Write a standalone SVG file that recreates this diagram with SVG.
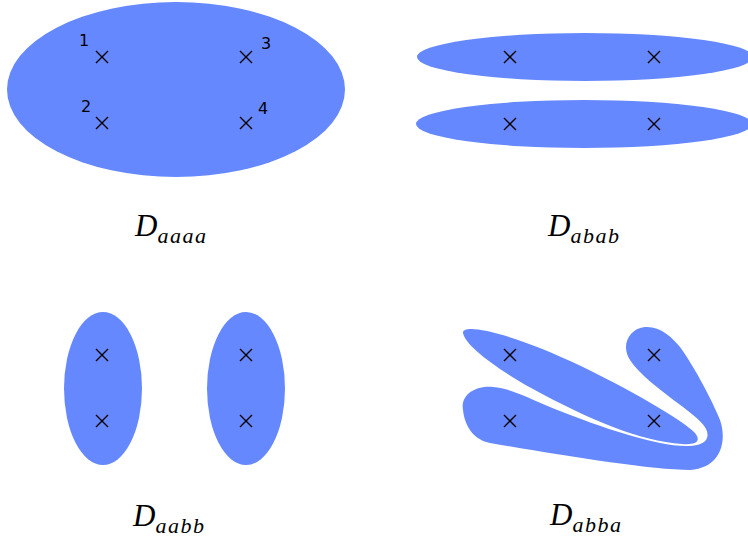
<svg xmlns="http://www.w3.org/2000/svg" width="748" height="540" viewBox="0 0 748 540">
<defs>
<style>
.blob{fill:#6688ff;stroke:none}
.x{stroke:#000;stroke-width:1.4;fill:none}
.num{font-family:"DejaVu Sans",sans-serif;font-size:16px;fill:#000}
.lab{font-family:"Liberation Serif",serif;font-style:italic;fill:#000}
.main{font-size:31px}
.sub{font-size:22px;letter-spacing:1.5px}
</style>
<path id="cross" d="M -6,-6 L 6,6 M -6,6 L 6,-6"/>
</defs>
<g id="aaaa">
<ellipse class="blob" cx="176" cy="89.5" rx="169" ry="87.5"/>
<use href="#cross" class="x" x="102" y="57"/>
<use href="#cross" class="x" x="246" y="57"/>
<use href="#cross" class="x" x="102" y="123"/>
<use href="#cross" class="x" x="246" y="123"/>
<text class="num" x="79" y="46">1</text>
<text class="num" x="261" y="49">3</text>
<text class="num" x="81" y="112">2</text>
<text class="num" x="258" y="114">4</text>
<text class="lab" x="135" y="236"><tspan class="main">D</tspan><tspan class="sub" dy="7">aaaa</tspan></text>
</g>
<g id="abab">
<ellipse class="blob" cx="585" cy="57" rx="168" ry="24"/>
<ellipse class="blob" cx="584" cy="124" rx="168" ry="24"/>
<use href="#cross" class="x" x="510" y="57"/>
<use href="#cross" class="x" x="654" y="57"/>
<use href="#cross" class="x" x="510" y="124"/>
<use href="#cross" class="x" x="654" y="124"/>
<text class="lab" x="548" y="236"><tspan class="main">D</tspan><tspan class="sub" dy="7">abab</tspan></text>
</g>
<g id="aabb">
<ellipse class="blob" cx="103" cy="388.5" rx="39" ry="76.5"/>
<ellipse class="blob" cx="246" cy="388.5" rx="39" ry="76.5"/>
<use href="#cross" class="x" x="102" y="355"/>
<use href="#cross" class="x" x="246" y="355"/>
<use href="#cross" class="x" x="102" y="421"/>
<use href="#cross" class="x" x="246" y="421"/>
<text class="lab" x="133" y="526"><tspan class="main">D</tspan><tspan class="sub" dy="7">aabb</tspan></text>
</g>
<g id="abba">
<path class="blob" d="M 463,333 C 462,322 515,334 583,367 C 640,395 685,422 695,433 C 702,442 695,445 682,444 C 640,441 590,420 533,389 C 495,368 465,345 463,333 Z"/>
<path class="blob" d="M 463,410 C 460,392 480,385 493,387 C 505,388 515,392 527,397 C 560,412 620,435 660,443 C 680,447 700,448 706,440 C 712,430 700,420 683,407 C 660,390 640,375 630,360 C 620,345 630,328 645,327 C 660,326 672,337 680,347 C 695,368 712,400 720,420 C 727,440 722,468 690,470 C 650,470 560,455 490,443 C 475,440 465,428 463,410 Z"/>
<use href="#cross" class="x" x="510" y="355"/>
<use href="#cross" class="x" x="654" y="355"/>
<use href="#cross" class="x" x="510" y="421"/>
<use href="#cross" class="x" x="654" y="421"/>
<text class="lab" x="550" y="525"><tspan class="main">D</tspan><tspan class="sub" dy="7">abba</tspan></text>
</g>
<g id="connectors"/>
</svg>
